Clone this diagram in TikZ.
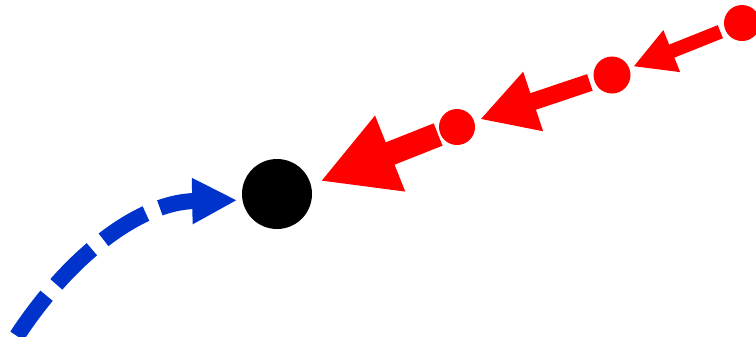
\documentclass[tikz,border=0pt]{standalone}
\usepackage{tikz}
\usetikzlibrary{arrows.meta, positioning}
\definecolor{dotred}{RGB}{255,0,0}
\definecolor{pathblue}{RGB}{0,51,204}

\begin{document}
\begin{tikzpicture}[x=0.02cm, y=-0.02cm,
dot/.style={circle, inner sep=0pt, fill=dotred},
redarrow/.style n args={3}{draw=dotred, line width=#1, -{Triangle[length=#2, width=#3]}},
bluearrow/.style={draw=pathblue, line width=0.32cm, dash pattern=on 1cm off 0.3cm, -{Triangle[length=0.9cm, width=0.86cm]}}
]
\useasboundingbox (0,0) rectangle (756,336);
% Nodes
\node[circle, fill=black, inner sep=0pt, minimum size=1.4cm] (target) at (277,194) {};
\node[dot, minimum size=0.72cm] (r1) at (457,127) {};
\node[dot, minimum size=0.74cm] (r2) at (612,75) {};
\node[dot, minimum size=0.72cm] (r3) at (742,23) {};
\coordinate (bstart) at (17,336);
% Red chain, thinner towards the right
\draw[redarrow={0.48cm}{1.5cm}{1.52cm}, shorten <=0.04cm, shorten >=0.2cm] (r1) -- (target.15);
\draw[redarrow={0.35cm}{1.12cm}{1.17cm}, shorten <=0.09cm, shorten >=0.12cm] (r2) -- (r1);
\draw[redarrow={0.28cm}{0.83cm}{0.84cm}, shorten <=0.1cm, shorten >=0.08cm] (r3) -- (r2);
% Blue dashed curve
\draw[bluearrow, shorten >=0.1cm] (bstart) .. controls (70,255) and (140,202) .. (target.190);
\end{tikzpicture}
\end{document}
